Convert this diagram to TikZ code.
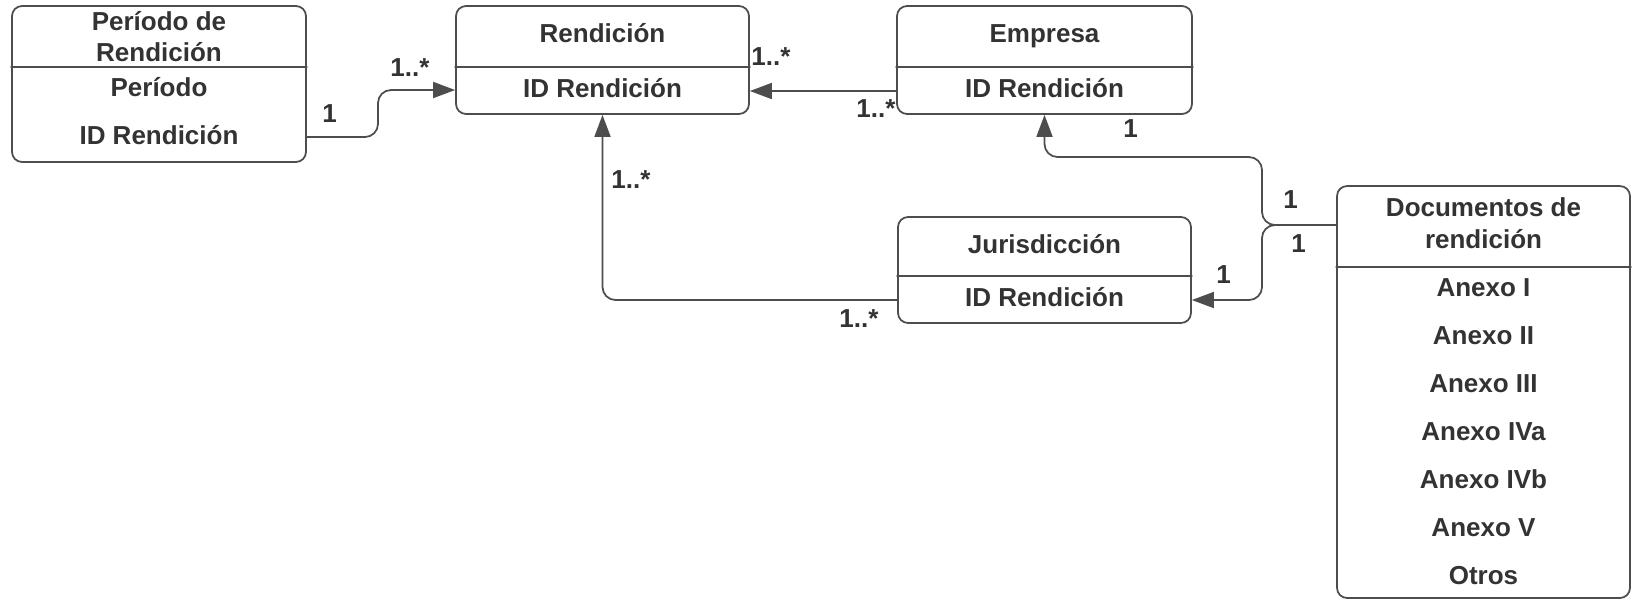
\documentclass[tikz,border=0pt]{standalone}
\usepackage{fontspec}
\setmainfont{Liberation Sans}
\usetikzlibrary{arrows.meta}

\definecolor{linegray}{HTML}{4D4D4D}
\definecolor{textgray}{HTML}{333333}

\tikzset{
    classbox/.style={draw=linegray, line width=1pt, rounded corners=0.2cm, fill=white, inner sep=0pt},
    divider/.style={draw=linegray, line width=1pt},
    entry/.style={text=textgray, font=\fontsize{14.8}{16.2}\selectfont\bfseries, inner sep=0pt, anchor=base},
    mult/.style={entry, anchor=base west},
    link/.style={draw=linegray, line width=1pt, rounded corners=0.26cm, -{Triangle[length=0.44cm, width=0.32cm]}}
}

\begin{document}
\begin{tikzpicture}[line cap=round, line join=round, x=0.02cm, y=-0.02cm]

    \useasboundingbox (0,0) rectangle (1634,600);

    \node[classbox, minimum width=5.88cm, minimum height=3.12cm] (periodo) at (159,84) {};
    \node[classbox, minimum width=5.86cm, minimum height=2.16cm] (rendicion) at (602.5,60) {};
    \node[classbox, minimum width=5.90cm, minimum height=2.16cm] (empresa) at (1044.5,60) {};
    \node[classbox, minimum width=5.86cm, minimum height=2.12cm] (juris) at (1044.5,270) {};
    \node[classbox, minimum width=5.86cm, minimum height=8.24cm] (docs) at (1483.5,392) {};

    \draw[divider] (periodo.west |- 0,67) -- (periodo.east |- 0,67);
    \draw[divider] (rendicion.west |- 0,67) -- (rendicion.east |- 0,67);
    \draw[divider] (empresa.west |- 0,67) -- (empresa.east |- 0,67);
    \draw[divider] (juris.west |- 0,276) -- (juris.east |- 0,276);
    \draw[divider] (docs.west |- 0,267) -- (docs.east |- 0,267);

    \node[entry] (periodo-t1) at (159,30) {Período de};
    \node[entry] (periodo-t2) at (159,61) {Rendición};
    \node[entry] (periodo-f1) at (159,96) {Período};
    \node[entry] (periodo-f2) at (159,144) {ID Rendición};

    \node[entry] (rendicion-t) at (602.5,42) {Rendición};
    \node[entry] (rendicion-f) at (602.5,97) {ID Rendición};

    \node[entry] (empresa-t) at (1044.5,42) {Empresa};
    \node[entry] (empresa-f) at (1044.5,97) {ID Rendición};

    \node[entry] (juris-t) at (1044.5,253) {Jurisdicción};
    \node[entry] (juris-f) at (1044.5,306) {ID Rendición};

    \node[entry] (docs-t1) at (1483.5,216) {Documentos de};
    \node[entry] (docs-t2) at (1483.5,248) {rendición};
    \foreach \item [count=\i from 0] in {Anexo I, Anexo II, Anexo III, Anexo IVa, Anexo IVb, Anexo V, Otros}
        \node[entry] (docs-f\i) at (1483.5,296+48*\i) {\item};

    \draw[link] (periodo.east |- 0,137) -- (378,137) -- (378,90) -- (rendicion.west |- 0,90);
    \draw[link] (empresa.west |- 0,91) -- (rendicion.east |- 0,91);
    \draw[link] (juris.west |- 0,300) -| (rendicion.south);
    \draw[link] (docs.west |- 0,225) -| (1262,157) -| (empresa.south);
    \draw[link] (docs.west |- 0,225) -| (1262,300) -- (juris.east |- 0,300);

    \node[mult] (m-periodo) at (322,122) {1};
    \node[mult] (m-rend-a) at (390,76) {1..*};
    \node[mult] (m-rend-b) at (751,65) {1..*};
    \node[mult] (m-empresa-a) at (856,117) {1..*};
    \node[mult] (m-empresa-b) at (1123,137) {1};
    \node[mult] (m-rend-c) at (611,188) {1..*};
    \node[mult] (m-juris-a) at (839,327) {1..*};
    \node[mult] (m-juris-b) at (1216,283) {1};
    \node[mult] (m-docs-a) at (1283,208) {1};
    \node[mult] (m-docs-b) at (1291,252) {1};

\end{tikzpicture}
\end{document}
